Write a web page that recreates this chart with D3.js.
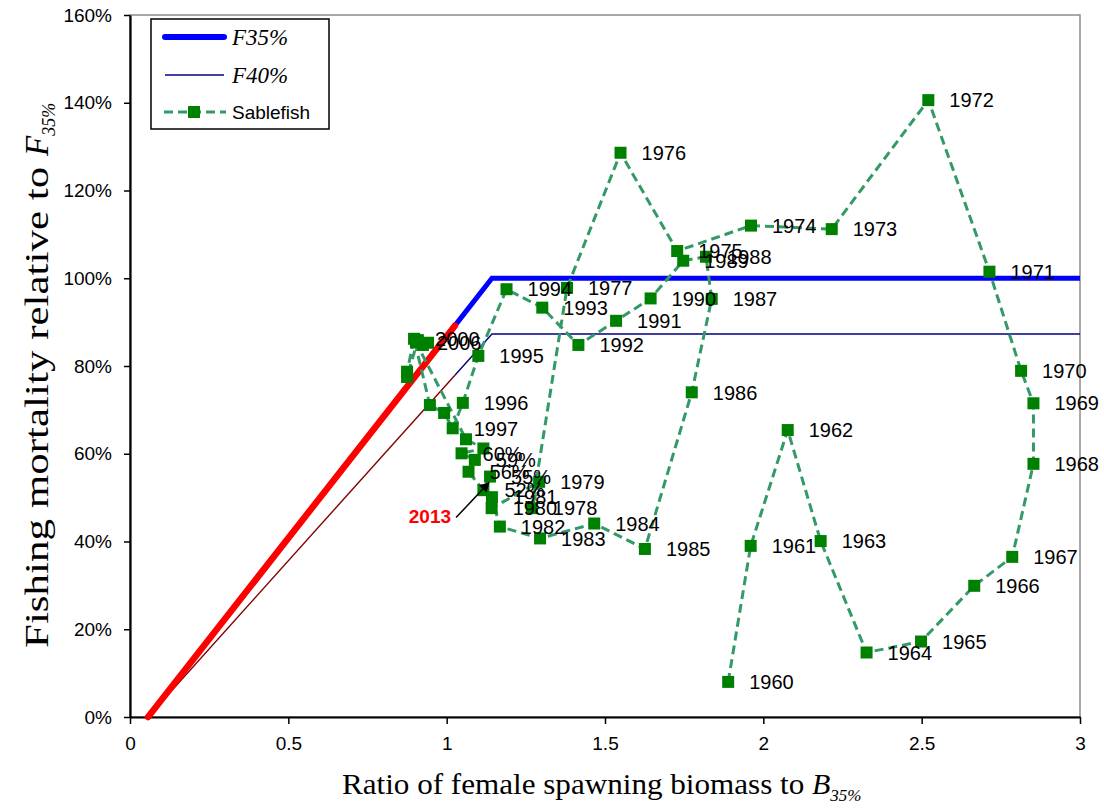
<!DOCTYPE html>
<html><head><meta charset="utf-8">
<script src="https://cdn.jsdelivr.net/npm/d3@7"></script>
<style>body{margin:0;background:#fff;} svg{display:block;}</style>
</head><body><svg id="c" width="1104" height="808"></svg>
<script>
// ---------- data ----------
const years = d3.range(1960, 2014);
const bRatio = [1.889,1.960,2.077,2.181,2.326,2.498,2.666,2.786,2.853,2.853,
                2.814,2.714,2.521,2.216,1.961,1.728,1.549,1.380,1.269,1.292,
                1.142,1.143,1.168,1.295,1.466,1.626,1.774,1.837,1.819,1.747,
                1.644,1.535,1.416,1.302,1.189,1.100,1.051,1.019,0.992,0.947,
                0.897,0.875,0.875,0.909,0.941,0.925,0.903,1.061,1.116,1.047,
                1.089,1.069,1.116,1.137];
const fRatio = [8.0,39.0,65.4,40.1,14.7,17.2,29.9,36.5,57.7,71.5,
                78.9,101.5,140.6,111.2,112.0,106.2,128.6,97.8,47.6,53.6,
                47.6,50.1,43.4,40.7,44.1,38.3,74.0,95.3,104.9,104.0,
                95.4,90.3,84.8,93.3,97.5,82.3,71.6,65.8,69.3,71.1,
                86.2,78.7,77.5,85.9,85.3,84.8,85.4,63.3,61.2,60.1,
                58.6,55.9,51.7,54.8];
const pointLabels = ["1960","1961","1962","1963","1964","1965","1966","1967","1968","1969",
                "1970","1971","1972","1973","1974","1975","1976","1977","1978","1979",
                "1980","1981","1982","1983","1984","1985","1986","1987","1988","1989",
                "1990","1991","1992","1993","1994","1995","1996","1997","","",
                "2000","","","","","","2006","","","60%",
                "59%","56%","52%","55%"];
const xTicks = [0, 0.5, 1, 1.5, 2, 2.5, 3];
const xTickLabels = ["0", "0.5", "1", "1.5", "2", "2.5", "3"];
const yTicks = [0, 20, 40, 60, 80, 100, 120, 140, 160];
const yTickLabels = ["0%", "20%", "40%", "60%", "80%", "100%", "120%", "140%", "160%"];
// harvest control rules
const ruleB   = [0.057, 1.026, 1.143, 3.0];
const ruleF35 = [0, 89.2, 100, 100];
const ruleF40 = [0, 77.9, 87.3, 87.3];
const highlightYear = 2013;

// ---------- chart ----------
const svg = d3.select("#c");
const x = d3.scaleLinear().domain([0, 3]).range([130, 1080]);
const y = d3.scaleLinear().domain([0, 160]).range([717, 15]);
const SANS = "'Liberation Sans', Arial, sans-serif";
const SERIF = "'Liberation Serif', 'Times New Roman', serif";

// frame
svg.append("rect").attr("x", x(0)).attr("y", y(160))
  .attr("width", x(3) - x(0)).attr("height", y(0) - y(160))
  .attr("fill", "none").attr("stroke", "#8c8c8c").attr("stroke-width", 1.5);

// axes
const gy = svg.append("g").attr("transform", `translate(${x(0)},0)`)
  .call(d3.axisLeft(y).tickValues(yTicks).tickFormat((d, i) => yTickLabels[i])
    .tickSize(6).tickSizeOuter(0).tickPadding(12));
const gx = svg.append("g").attr("transform", `translate(0,${y(0)})`)
  .call(d3.axisBottom(x).tickValues(xTicks).tickFormat((d, i) => xTickLabels[i])
    .tickSize(7).tickSizeOuter(0).tickPadding(13));
[gx, gy].forEach(g => {
  g.select(".domain").attr("stroke", "#000").attr("stroke-width", 2.2);
  g.selectAll(".tick line").attr("stroke", "#000").attr("stroke-width", 1.5);
  g.selectAll(".tick text").attr("font-family", SANS).attr("font-size", 19).attr("fill", "#000");
});

// control rules
const ruleLineSub = (arr, i0, i1) => d3.line().x(i => x(ruleB[i])).y(i => y(arr[i]))(d3.range(i0, i1 + 1));
svg.append("path").attr("d", ruleLineSub(ruleF40, 1, 3)).attr("fill", "none")
  .attr("stroke", "#000080").attr("stroke-width", 1.4);
svg.append("path").attr("d", ruleLineSub(ruleF40, 0, 1)).attr("fill", "none")
  .attr("stroke", "#800000").attr("stroke-width", 1.4);
svg.append("path").attr("d", ruleLineSub(ruleF35, 1, 3)).attr("fill", "none")
  .attr("stroke", "#0000ff").attr("stroke-width", 5);
svg.append("path").attr("d", ruleLineSub(ruleF35, 0, 1)).attr("fill", "none")
  .attr("stroke", "#ff0000").attr("stroke-width", 6.5).attr("stroke-linecap", "round");

// sablefish trajectory
const pts = years.map((yr, i) => ({ yr, b: bRatio[i], f: fRatio[i], lab: pointLabels[i] }));
svg.append("path")
  .attr("d", d3.line().x(d => x(d.b)).y(d => y(d.f))(pts))
  .attr("fill", "none").attr("stroke", "#339966").attr("stroke-width", 3)
  .attr("stroke-dasharray", "9,5");
svg.append("g").selectAll("rect").data(pts).join("rect")
  .attr("x", d => x(d.b) - 6).attr("y", d => y(d.f) - 6)
  .attr("width", 12).attr("height", 12).attr("fill", "#008000");
svg.append("g").selectAll("text").data(pts.filter(d => d.lab)).join("text")
  .attr("x", d => x(d.b) + 21).attr("y", d => y(d.f)).attr("dy", "0.36em")
  .attr("font-family", SANS).attr("font-size", 20).attr("fill", "#000")
  .text(d => d.lab);

// 2013 annotation
const hp = pts.find(d => d.yr === highlightYear);
const tipX = x(hp.b) - 1, tipY = y(hp.f) + 6;
svg.append("defs").append("marker").attr("id", "ah").attr("viewBox", "0 0 10 10")
  .attr("refX", 9).attr("refY", 5).attr("markerWidth", 10).attr("markerHeight", 10)
  .attr("orient", "auto").attr("markerUnits", "userSpaceOnUse")
  .append("path").attr("d", "M0,0 L10,5 L0,10 z").attr("fill", "#000");
svg.append("line").attr("x1", tipX - 33).attr("y1", tipY + 35).attr("x2", tipX).attr("y2", tipY)
  .attr("stroke", "#000").attr("stroke-width", 1.5).attr("marker-end", "url(#ah)");
svg.append("text").attr("x", tipX - 38).attr("y", tipY + 34).attr("dy", "0.36em")
  .attr("text-anchor", "end").attr("font-family", SANS).attr("font-size", 19)
  .attr("font-weight", "bold").attr("fill", "#ff0000").text(String(highlightYear));

// axis titles
const xt = svg.append("text").attr("x", 342).attr("y", 794).attr("text-anchor", "start")
  .attr("font-family", SERIF).attr("font-size", 30).attr("fill", "#000");
xt.append("tspan").attr("textLength", 470).attr("lengthAdjust", "spacingAndGlyphs")
  .text("Ratio of female spawning biomass to ");
xt.append("tspan").attr("font-style", "italic").text("B");
xt.append("tspan").attr("font-style", "italic").attr("font-size", 17).attr("dy", 7).text("35%");

const yt = svg.append("text").attr("transform", "translate(48,367) rotate(-90)")
  .attr("x", -281).attr("y", 0)
  .attr("text-anchor", "start").attr("font-family", SERIF).attr("font-size", 33).attr("fill", "#000");
yt.append("tspan").attr("textLength", 492).attr("lengthAdjust", "spacingAndGlyphs")
  .text("Fishing mortality relative to ");
yt.append("tspan").attr("font-style", "italic").text("F");
yt.append("tspan").attr("font-style", "italic").attr("font-size", 18).attr("dy", 7).text("35%");

// legend
const lg = svg.append("g");
lg.append("rect").attr("x", 151).attr("y", 19).attr("width", 178).attr("height", 110)
  .attr("fill", "#fff").attr("stroke", "#000").attr("stroke-width", 1.5);
const legendItems = [
  { name: "F35%", serif: true, draw: g => g.append("line").attr("x1", 165).attr("x2", 224).attr("stroke", "#0000ff").attr("stroke-width", 6).attr("stroke-linecap", "round") },
  { name: "F40%", serif: true, draw: g => g.append("line").attr("x1", 165).attr("x2", 224).attr("stroke", "#000080").attr("stroke-width", 1.4) },
  { name: "Sablefish", serif: false, draw: g => {
      g.append("line").attr("x1", 164).attr("x2", 226).attr("stroke", "#339966").attr("stroke-width", 3).attr("stroke-dasharray", "9,5");
      g.append("rect").attr("x", 188).attr("y", -6).attr("width", 12).attr("height", 12).attr("fill", "#008000");
  } }
];
const legendY = [37, 75, 112];
legendItems.forEach((it, i) => {
  const g = lg.append("g").attr("transform", `translate(0,${legendY[i]})`);
  it.draw(g);
  g.append("text").attr("x", 232).attr("y", 0).attr("dy", "0.36em")
    .attr("font-family", it.serif ? SERIF : SANS).attr("font-style", it.serif ? "italic" : "normal")
    .attr("font-size", it.serif ? 23 : 19).attr("fill", "#000").text(it.name);
});
</script>
</body></html>
